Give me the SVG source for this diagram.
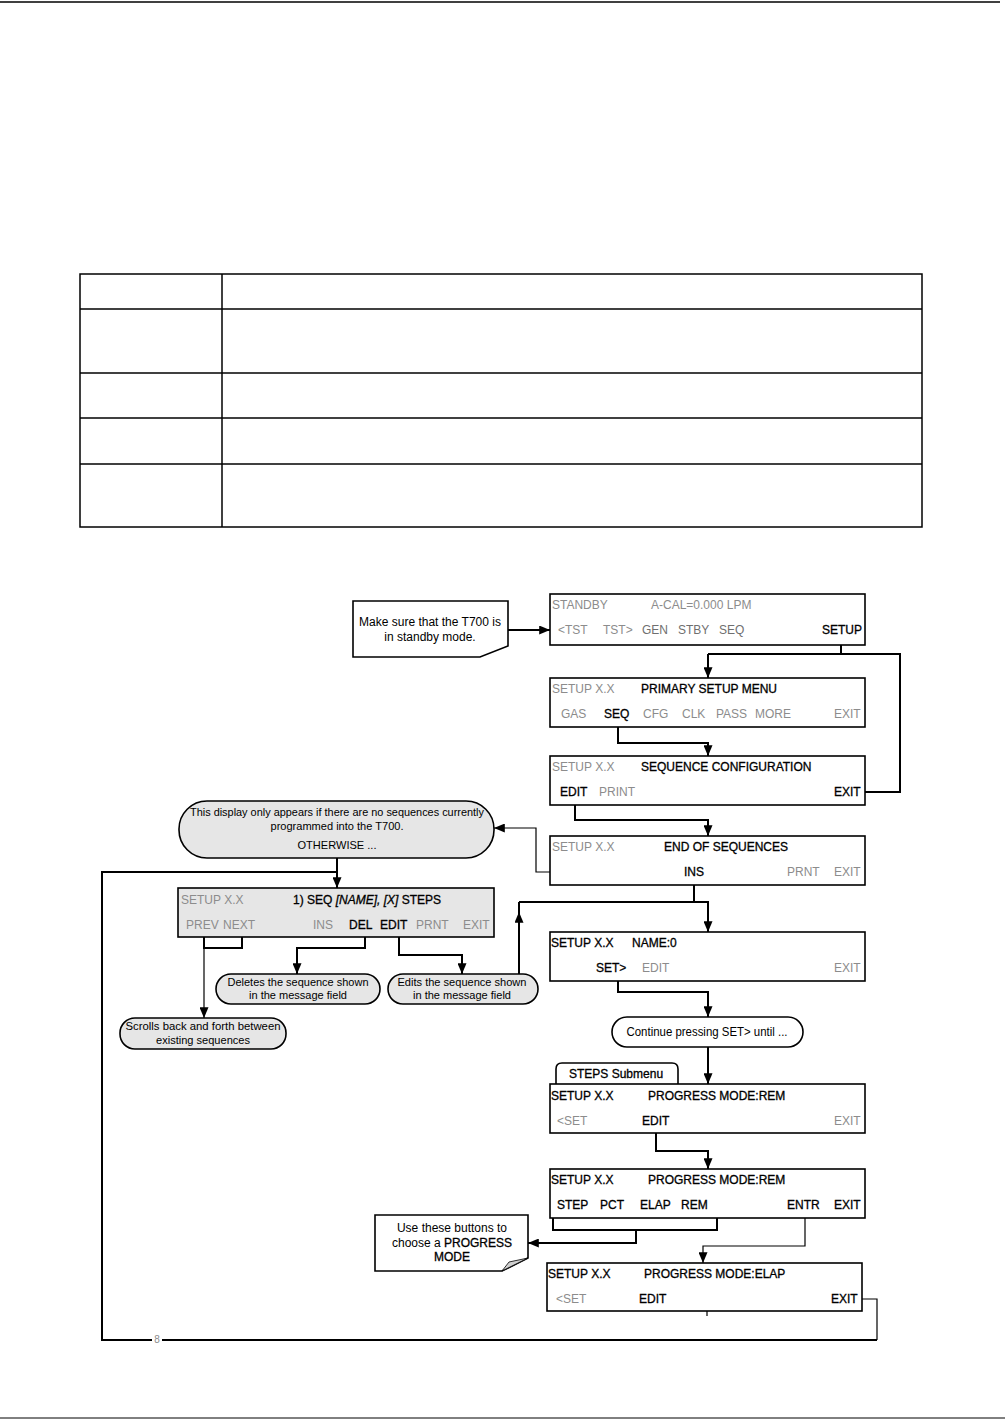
<svg xmlns="http://www.w3.org/2000/svg" width="1005" height="1420" viewBox="0 0 1005 1420">
<style>
.box{fill:#fff;stroke:#000;stroke-width:1.6}
.gbox{fill:#e6e6e6;stroke:#000;stroke-width:1.6}
.t{font-family:"Liberation Sans",Arial,sans-serif;font-size:12px;fill:#000}
.b{stroke:#000;stroke-width:0.3}
.s{font-family:"Liberation Sans",Arial,sans-serif;font-size:11px;fill:#000}
.g{fill:#8c8c8c}
.m{fill:#6f6f6f}
.c{fill:none;stroke:#000;stroke-width:2}
.c1{fill:none;stroke:#000;stroke-width:1.2}
.tb{fill:none;stroke:#000;stroke-width:1.5}
</style>
<defs>
<marker id="ah" viewBox="0 0 12 10" refX="12" refY="5" markerWidth="12" markerHeight="9" markerUnits="userSpaceOnUse" orient="auto">
<path d="M0,0 L12,5 L0,10 z" fill="#000"/>
</marker>
</defs>
<rect width="1005" height="1420" fill="#fff"/>
<g id="page-rules">
<line x1="0" y1="2" x2="1000" y2="2" stroke="#000" stroke-width="1.5"/>
<line x1="0" y1="1418" x2="1005" y2="1418" stroke="#000" stroke-width="1"/>
</g>
<g id="table">
<rect x="80" y="274" width="842" height="253" class="tb"/>
<line x1="80" y1="309" x2="922" y2="309" class="tb"/>
<line x1="80" y1="373" x2="922" y2="373" class="tb"/>
<line x1="80" y1="418" x2="922" y2="418" class="tb"/>
<line x1="80" y1="464" x2="922" y2="464" class="tb"/>
<line x1="222" y1="274" x2="222" y2="527" class="tb"/>
</g>
<g id="connectors">
<path class="c" d="M508,630 H550" marker-end="url(#ah)"/>
<path class="c" d="M841,645 V654"/>
<path class="c" d="M708,654 H900 V792 H865"/>
<path class="c" d="M708,654 V678" marker-end="url(#ah)"/>
<path class="c" d="M618,727 V743 H708 V756" marker-end="url(#ah)"/>
<path class="c" d="M575,805 V820 H708 V836" marker-end="url(#ah)"/>
<path class="c1" d="M550,872 H536 V828 H494" marker-end="url(#ah)"/>
<path class="c" d="M694,885 V902"/>
<path class="c" d="M519,902 H708 V932" marker-end="url(#ah)"/>
<path class="c" d="M519,974 V912" marker-end="url(#ah)"/>
<path class="c" d="M519,914 V902"/>
<path class="c" d="M337,858 V888" marker-end="url(#ah)"/>
<path class="c" d="M204,937 V948 H242 V937"/>
<path class="c1" d="M204,948 V1018" marker-end="url(#ah)"/>
<path class="c" d="M365,937 V948 H297 V974" marker-end="url(#ah)"/>
<path class="c" d="M399,937 V955 H462 V974" marker-end="url(#ah)"/>
<path class="c" d="M618,981 V992 H708 V1017" marker-end="url(#ah)"/>
<path class="c" d="M708,1047 V1084" marker-end="url(#ah)"/>
<path class="c" d="M656,1133 V1151 H708 V1169" marker-end="url(#ah)"/>
<path class="c" d="M553,1199 V1230 H717 V1199"/>
<path class="c" d="M636,1230 V1243 H528" marker-end="url(#ah)"/>
<path class="c1" d="M805,1218 V1246 H703 V1263" marker-end="url(#ah)"/>
<path class="c1" d="M862,1299 H877 V1340"/>
<path class="c" d="M877,1340 H102 V872 H337"/>
<path class="c1" d="M707,1311 V1316"/>
<rect x="152" y="1334" width="10" height="11" fill="#fff"/>
<text x="157" y="1343" class="t g" style="font-size:10px" text-anchor="middle">8</text>
</g>
<g id="note-standby">
<path class="box" d="M353,601 H508 V646 L480,657 H353 Z"/>
<text class="t" x="430" y="626" text-anchor="middle">Make sure that the T700 is</text>
<text class="t" x="430" y="641" text-anchor="middle">in standby mode.</text>
</g>
<g id="box-standby">
<rect class="box" x="550" y="594" width="315" height="51"/>
<text class="t g" x="552" y="609">STANDBY</text>
<text class="t g" x="651" y="609">A-CAL=0.000 LPM</text>
<text class="t g" x="558" y="634">&lt;TST</text>
<text class="t g" x="603" y="634">TST&gt;</text>
<text class="t m" x="642" y="634">GEN</text>
<text class="t m" x="678" y="634">STBY</text>
<text class="t m" x="719" y="634">SEQ</text>
<text class="t b" x="822" y="634">SETUP</text>
</g>
<g id="box-primary">
<rect class="box" x="550" y="678" width="315" height="49"/>
<text class="t g" x="552" y="693">SETUP X.X</text>
<text class="t b" x="641" y="693">PRIMARY SETUP MENU</text>
<text class="t g" x="561" y="718">GAS</text>
<text class="t b" x="604" y="718">SEQ</text>
<text class="t g" x="643" y="718">CFG</text>
<text class="t g" x="682" y="718">CLK</text>
<text class="t g" x="716" y="718">PASS</text>
<text class="t g" x="755" y="718">MORE</text>
<text class="t g" x="834" y="718">EXIT</text>
</g>
<g id="box-seqconfig">
<rect class="box" x="550" y="756" width="315" height="49"/>
<text class="t g" x="552" y="771">SETUP X.X</text>
<text class="t b" x="641" y="771">SEQUENCE CONFIGURATION</text>
<text class="t b" x="560" y="796">EDIT</text>
<text class="t g" x="599" y="796">PRINT</text>
<text class="t b" x="834" y="796">EXIT</text>
</g>
<g id="box-end">
<rect class="box" x="550" y="836" width="315" height="49"/>
<text class="t g" x="552" y="851">SETUP X.X</text>
<text class="t b" x="664" y="851">END OF SEQUENCES</text>
<text class="t b" x="684" y="876">INS</text>
<text class="t g" x="787" y="876">PRNT</text>
<text class="t g" x="834" y="876">EXIT</text>
</g>
<g id="callout-display">
<rect class="gbox" x="179" y="801" width="315" height="57" rx="28" ry="28"/>
<text class="s" x="337" y="816" text-anchor="middle" textLength="294" lengthAdjust="spacingAndGlyphs">This display only appears if there are no sequences currently</text>
<text class="s" x="337" y="830" text-anchor="middle" textLength="133" lengthAdjust="spacingAndGlyphs">programmed into the T700.</text>
<text class="s" x="337" y="849" text-anchor="middle" textLength="79" lengthAdjust="spacingAndGlyphs">OTHERWISE ...</text>
</g>
<g id="box-seq">
<rect class="gbox" x="178" y="888" width="316" height="49"/>
<text class="t g" x="181" y="904">SETUP X.X</text>
<text class="t b" x="293" y="904">1) SEQ <tspan font-style="italic">[NAME], [X]</tspan> STEPS</text>
<text class="t g" x="186" y="929">PREV</text>
<text class="t g" x="223" y="929">NEXT</text>
<text class="t g" x="313" y="929">INS</text>
<text class="t b" x="349" y="929">DEL</text>
<text class="t b" x="380" y="929">EDIT</text>
<text class="t g" x="416" y="929">PRNT</text>
<text class="t g" x="463" y="929">EXIT</text>
</g>
<g id="callout-delete">
<rect class="gbox" x="216" y="974" width="164" height="30" rx="15" ry="15"/>
<text class="s" x="298" y="986" text-anchor="middle" textLength="141" lengthAdjust="spacingAndGlyphs">Deletes the sequence shown</text>
<text class="s" x="298" y="999" text-anchor="middle" textLength="98" lengthAdjust="spacingAndGlyphs">in the message field</text>
</g>
<g id="callout-edit">
<rect class="gbox" x="388" y="974" width="150" height="30" rx="15" ry="15"/>
<text class="s" x="462" y="986" text-anchor="middle" textLength="129" lengthAdjust="spacingAndGlyphs">Edits the sequence shown</text>
<text class="s" x="462" y="999" text-anchor="middle" textLength="98" lengthAdjust="spacingAndGlyphs">in the message field</text>
</g>
<g id="callout-scroll">
<rect class="gbox" x="120" y="1018" width="166" height="31" rx="15" ry="15"/>
<text class="s" x="203" y="1030" text-anchor="middle" textLength="155" lengthAdjust="spacingAndGlyphs">Scrolls back and forth between</text>
<text class="s" x="203" y="1044" text-anchor="middle" textLength="94" lengthAdjust="spacingAndGlyphs">existing sequences</text>
</g>
<g id="box-name">
<rect class="box" x="550" y="932" width="315" height="49"/>
<text class="t b" x="551" y="947">SETUP X.X</text>
<text class="t b" x="632" y="947">NAME:0</text>
<text class="t b" x="596" y="972">SET&gt;</text>
<text class="t g" x="642" y="972">EDIT</text>
<text class="t g" x="834" y="972">EXIT</text>
</g>
<g id="callout-continue">
<rect class="box" x="612" y="1017" width="191" height="30" rx="15" ry="15"/>
<text class="t" x="707" y="1036" text-anchor="middle" textLength="161" lengthAdjust="spacingAndGlyphs">Continue pressing SET&gt; until ...</text>
</g>
<g id="tab-steps">
<path class="box" d="M556,1084 V1069 Q556,1063 562,1063 H672 Q678,1063 678,1069 V1084"/>
<text class="t b" x="569" y="1078">STEPS Submenu</text>
</g>
<g id="box-prog1">
<rect class="box" x="550" y="1084" width="315" height="49"/>
<text class="t b" x="551" y="1100">SETUP X.X</text>
<text class="t b" x="648" y="1100">PROGRESS MODE:REM</text>
<text class="t g" x="557" y="1125">&lt;SET</text>
<text class="t b" x="642" y="1125">EDIT</text>
<text class="t g" x="834" y="1125">EXIT</text>
</g>
<g id="box-prog2">
<rect class="box" x="550" y="1169" width="315" height="49"/>
<text class="t b" x="551" y="1184">SETUP X.X</text>
<text class="t b" x="648" y="1184">PROGRESS MODE:REM</text>
<text class="t b" x="557" y="1209">STEP</text>
<text class="t b" x="600" y="1209">PCT</text>
<text class="t b" x="640" y="1209">ELAP</text>
<text class="t b" x="681" y="1209">REM</text>
<text class="t b" x="787" y="1209">ENTR</text>
<text class="t b" x="834" y="1209">EXIT</text>
</g>
<g id="note-progress">
<path class="box" d="M375,1215 H528 V1258 L502,1271 H375 Z"/>
<path d="M502,1271 L509,1262 L528,1258 Z" fill="#d0d0d0" stroke="#000" stroke-width="0.8"/>
<text class="t" x="452" y="1232" text-anchor="middle">Use these buttons to</text>
<text class="t" x="452" y="1247" text-anchor="middle">choose a <tspan class="b">PROGRESS</tspan></text>
<text class="t b" x="452" y="1261" text-anchor="middle">MODE</text>
</g>
<g id="box-prog3">
<rect class="box" x="547" y="1263" width="315" height="48"/>
<text class="t b" x="548" y="1278">SETUP X.X</text>
<text class="t b" x="644" y="1278">PROGRESS MODE:ELAP</text>
<text class="t g" x="556" y="1303">&lt;SET</text>
<text class="t b" x="639" y="1303">EDIT</text>
<text class="t b" x="831" y="1303">EXIT</text>
</g>
</svg>
